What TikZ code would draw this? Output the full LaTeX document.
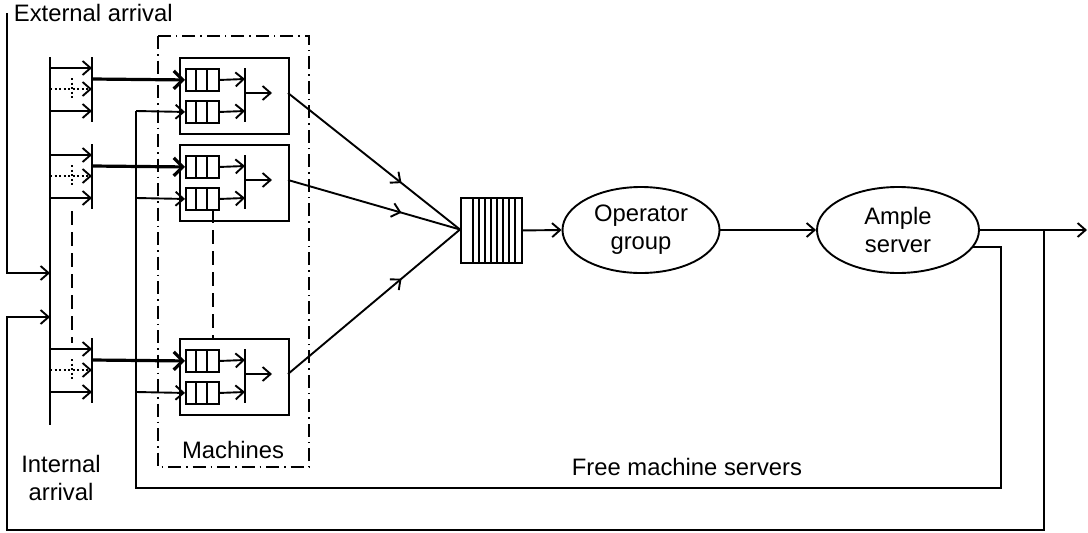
\documentclass[tikz,border=0pt]{standalone}
\usepackage{fontspec}
\setmainfont{Liberation Sans}
\usetikzlibrary{arrows.meta,shapes.geometric,decorations.markings}
\begin{document}
\begin{tikzpicture}[x=1pt,y=-1pt,line width=1.9pt,
  every node/.style={font=\fontsize{23.8}{28}\selectfont},
  arr/.style={-{Straight Barb[length=8pt,width=14pt]}},
  tarr/.style={line width=3.2pt,-{Straight Barb[length=9pt,width=18pt]}},
  dotln/.style={dash pattern=on 2pt off 2.5pt},
  dashln/.style={dash pattern=on 14pt off 7pt},
  dashdotln/.style={dash pattern=on 13pt off 5pt on 1.5pt off 5pt},
  mbox/.style={draw,rectangle,inner sep=0pt,anchor=north west,minimum width=109pt,minimum height=76pt},
  qbox/.style={draw,rectangle,inner sep=0pt,anchor=north west,minimum width=33pt,minimum height=22pt},
  ell/.style={draw,ellipse,inner sep=0pt,align=center,minimum height=86pt},
  midarr/.style={postaction={decorate},decoration={markings,mark=at position 0.66 with {\arrow{Straight Barb[length=8pt,width=14pt]}}}}]
\useasboundingbox (0,0) rectangle (1088,533);

% main queue and servers
\node[draw,rectangle,inner sep=0pt,anchor=north west,minimum width=61pt,minimum height=65pt] (mq) at (460,197) {};
\foreach \x in {473,479,...,515} \draw (\x,197) -- (\x,262);
\coordinate (mqin) at (460,229.5);
\node[ell,minimum width=157pt] (op) at (641,230) {Operator\\group};
\node[ell,minimum width=162pt] (amp) at (898,230) {Ample\\server};

% machine groups
\foreach \o/\n in {0/1,87/2,281/3}{
  \coordinate (sa\n) at (50,68+\o);
  \coordinate (sb\n) at (50,89+\o);
  \coordinate (sc\n) at (50,111+\o);
  \coordinate (ta\n) at (92,68+\o);
  \coordinate (tb\n) at (92,89+\o);
  \coordinate (tc\n) at (92,111+\o);
  \draw[arr] (sa\n) -- (ta\n);
  \draw[dotln] (sb\n) -- (tb\n);
  \draw[arr] ([xshift=-0.5pt]tb\n) -- (tb\n);
  \draw[arr] (sc\n) -- (tc\n);
  \draw (92,57+\o) -- (92,122+\o);
  \draw[dotln] (72,78+\o) -- (72,100+\o);
  \node[mbox] (m\n) at (179,57+\o) {};
  \node[qbox] (qa\n) at (185,68+\o) {};
  \node[qbox] (qb\n) at (185,100+\o) {};
  \foreach \x in {196,207} \draw (\x,68+\o) -- (\x,90+\o) (\x,100+\o) -- (\x,122+\o);
  \coordinate (th\n) at (92,79+\o);
  \draw[tarr] (th\n) -- (qa\n.west);
  \coordinate (fm\n) at (136,111+\o);
  \draw[arr] (fm\n) -- (qb\n.west);
  \coordinate (ja\n) at (245,79+\o);
  \coordinate (jb\n) at (245,111+\o);
  \draw[arr] (qa\n.east) -- (ja\n);
  \draw[arr] (qb\n.east) -- (jb\n);
  \draw (245,68+\o) -- (245,122+\o);
  \coordinate (jo\n) at (245,93+\o);
  \coordinate (jt\n) at (272,93+\o);
  \draw[arr] (jo\n) -- (jt\n);
  \coordinate (mo\n) at (288,93+\o);
  \draw[midarr] (mo\n) -- (mqin);
}

% arrival bar
\draw (50,57) -- (50,425);
\draw[dashln] (72,211) -- (72,343);
\draw[dashln] (213,209) -- (213,338);

% machines frame
\draw[dashdotln] (158,36) rectangle (309,467);

% flows
\draw[arr] (mq.east) -- (op.west);
\draw[arr] (op.east) -- (amp.west);
\coordinate (out) at (1087,230);
\draw[arr] (amp.east) -- (out);
\coordinate (fb) at (1044,230);
\coordinate (intin) at (50,317);
\draw[arr] (fb) -- (1044,530) -- (7,530) -- (7,317) -- (intin);
\coordinate (extsrc) at (7,13);
\coordinate (extin) at (50,273);
\draw[arr] (extsrc) -- (7,273) -- (extin);
\coordinate (freeout) at (972.5,247);
\draw (freeout) -- (1001,247) -- (1001,488) -- (136,488) -- (fm1);

% labels
\node[anchor=base west,inner sep=0pt] (ext) at (13,21) {External arrival};
\node[align=center,inner sep=0pt] (int) at (61,478) {Internal\\arrival};
\node[anchor=base,inner sep=0pt] (mach) at (233,458) {Machines};
\node[anchor=base,inner sep=0pt] (free) at (687,475) {Free machine servers};
\end{tikzpicture}
\end{document}
